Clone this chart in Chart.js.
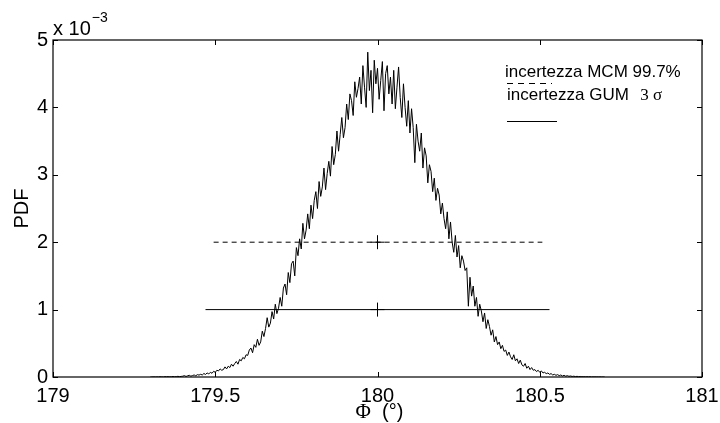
<!DOCTYPE html>
<html>
<head>
<meta charset="utf-8">
<script src="https://cdn.jsdelivr.net/npm/chart.js@4.4.1/dist/chart.umd.min.js"></script>
<style>
  html, body { margin: 0; padding: 0; background: #ffffff; }
  #wrap { width: 720px; height: 423px; }
</style>
</head>
<body>
<div id="wrap"><canvas id="c" width="720" height="423"></canvas></div>
<script>
// Histogram grid of the angle Φ (degrees)
const phiStart = 179.30;
const phiStep = 0.005;

// Estimated PDF per bin, in units of 10^-3
const pdfMilli = [
  0, 0, 0.003, 0, 0.002, 0, 0.004, 0.002, 0, 0.005, 0.003, 0.006, 0.002, 0.004, 0.008, 0.003, 0.006, 0.01, 0.005, 0.009,
  0.012, 0.02, 0.008, 0.018, 0.025, 0.012, 0.022, 0.03, 0.018, 0.035, 0.028, 0.04, 0.03, 0.052, 0.038, 0.06, 0.045, 0.07, 0.055, 0.085,
  0.07, 0.1, 0.09, 0.12, 0.1, 0.11, 0.15, 0.12, 0.16, 0.14, 0.19, 0.16, 0.2, 0.23, 0.19, 0.26, 0.24, 0.29, 0.27, 0.33,
  0.32, 0.4, 0.43, 0.36, 0.48, 0.44, 0.56, 0.47, 0.52, 0.68, 0.6, 0.72, 0.88, 0.74, 0.8, 0.97, 0.86, 1.08, 0.94, 1.02,
  1.18, 1.05, 1.32, 1.38, 1.22, 1.55, 1.4, 1.68, 1.72, 1.5, 1.92, 1.8, 2.05, 1.9, 2.28, 2.05, 2.18, 2.42, 2.2, 2.55,
  2.35, 2.62, 2.75, 2.5, 2.9, 2.68, 2.82, 3.1, 2.78, 3.02, 3.2, 2.98, 3.42, 3.15, 3.3, 3.65, 3.35, 3.6, 3.85, 3.55,
  3.7, 4.05, 3.82, 4.2, 4.1, 3.88, 4.38, 4.15, 4.28, 4.45, 4.05, 4.62, 4.3, 4.0, 4.82, 4.25, 4.55, 3.92, 4.7, 4.35,
  4.58, 4.12, 4.4, 4.68, 3.95, 4.5, 4.62, 4.2, 4.45, 4.05, 4.55, 3.98, 4.3, 4.6, 4.15, 3.85, 4.35, 4.0, 3.72, 4.1,
  3.62, 3.98, 3.7, 3.18, 3.75, 3.5, 3.35, 3.62, 3.1, 3.4, 3.28, 2.88, 3.15, 3.05, 2.75, 2.95, 2.62, 2.8, 2.7, 2.42,
  2.58, 2.35, 2.2, 2.45, 2.05, 2.3, 2.0, 1.85, 2.1, 1.78, 1.95, 1.62, 1.8, 1.72, 1.58, 1.62, 1.05, 1.48, 1.2, 1.35,
  1.05, 1.18, 0.9, 1.08, 0.98, 0.82, 0.95, 0.72, 0.85, 0.75, 0.62, 0.7, 0.52, 0.6, 0.48, 0.52, 0.42, 0.47, 0.38, 0.4,
  0.32, 0.37, 0.3, 0.26, 0.33, 0.24, 0.27, 0.2, 0.25, 0.18, 0.16, 0.2, 0.13, 0.16, 0.11, 0.14, 0.1, 0.11, 0.08, 0.1,
  0.07, 0.09, 0.06, 0.07, 0.05, 0.06, 0.04, 0.05, 0.03, 0.04, 0.025, 0.035, 0.02, 0.03, 0.015, 0.025, 0.012, 0.02, 0.01, 0.015,
  0.008, 0.012, 0.006, 0.01, 0.004, 0.008, 0.003, 0.006, 0.002, 0.005, 0.002, 0.004, 0, 0.003, 0.001, 0.002, 0, 0.002, 0, 0,
  0
];

// Coverage intervals and the level at which each is drawn (10^-3)
const mcmInterval = [179.495, 180.508];
const mcmLevel = 2;
const gumInterval = [179.47, 180.53];
const gumLevel = 1;
const centreValue = 180;

// Axis ticks
const xTicks = [179, 179.5, 180, 180.5, 181];
const yTicks = [0, 1, 2, 3, 4, 5];

const legendLabels = ['incertezza MCM 99.7%', 'incertezza GUM  ', '3 σ'];

const pdfPoints = pdfMilli.map((v, i) => ({ x: phiStart + i * phiStep, y: v }));

const SANS = '"Liberation Sans", Arial, Helvetica, sans-serif';
const SERIF = '"Liberation Serif", "Times New Roman", serif';

// Box, inward ticks, axis titles, exponent and legend
const framePlugin = {
  id: 'frame',
  afterDraw(chart) {
    const { ctx, chartArea: a, scales } = chart;
    const xs = scales.x, ys = scales.y;
    ctx.save();
    ctx.strokeStyle = '#000';
    ctx.lineWidth = 1.2;
    ctx.strokeRect(a.left, a.top, a.right - a.left, a.bottom - a.top);

    ctx.lineWidth = 1;
    const tl = 5;
    ctx.beginPath();
    xTicks.forEach(v => {
      const px = Math.round(xs.getPixelForValue(v)) + 0.5;
      ctx.moveTo(px, a.bottom); ctx.lineTo(px, a.bottom - tl);
      ctx.moveTo(px, a.top); ctx.lineTo(px, a.top + tl);
    });
    yTicks.forEach(v => {
      const py = Math.round(ys.getPixelForValue(v)) + 0.5;
      ctx.moveTo(a.left, py); ctx.lineTo(a.left + tl, py);
      ctx.moveTo(a.right, py); ctx.lineTo(a.right - tl, py);
    });
    ctx.stroke();

    ctx.fillStyle = '#000';
    // y title
    ctx.save();
    ctx.translate(22, (a.top + a.bottom) / 2);
    ctx.rotate(-Math.PI / 2);
    ctx.font = '20px ' + SANS;
    ctx.textAlign = 'center';
    ctx.textBaseline = 'middle';
    ctx.fillText('PDF', 0, 0);
    ctx.restore();

    // x title: Φ (°)
    const cx = xs.getPixelForValue(180);
    ctx.textBaseline = 'alphabetic';
    ctx.textAlign = 'left';
    ctx.font = '21px ' + SERIF;
    const phiW = ctx.measureText('Φ').width;
    ctx.font = '20px ' + SANS;
    const degW = ctx.measureText('  (°)').width;
    let sx = cx - (phiW + degW) / 2 + 2;
    ctx.font = '21px ' + SERIF;
    ctx.fillText('Φ', sx, 418);
    ctx.font = '20px ' + SANS;
    ctx.fillText('  (°)', sx + phiW, 418);

    // exponent label
    ctx.font = '20px ' + SANS;
    ctx.fillText('x 10', a.left, 35);
    const w10 = ctx.measureText('x 10').width;
    ctx.font = '14px ' + SANS;
    ctx.fillText('\u22123', a.left + w10 + 1, 22);

    // legend
    ctx.font = '17px ' + SANS;
    ctx.fillText(legendLabels[0], 505, 77);
    ctx.fillText(legendLabels[1], 507, 100);
    const gw = ctx.measureText(legendLabels[1]).width;
    ctx.font = '17px ' + SERIF;
    ctx.fillText(legendLabels[2], 507 + gw + 2, 100);

    ctx.lineWidth = 1;
    ctx.setLineDash([6, 5]);
    ctx.beginPath(); ctx.moveTo(507, 83.5); ctx.lineTo(552, 83.5); ctx.stroke();
    ctx.setLineDash([]);
    ctx.beginPath(); ctx.moveTo(507, 121.5); ctx.lineTo(557, 121.5); ctx.stroke();
    ctx.restore();
  }
};

new Chart(document.getElementById('c'), {
  type: 'line',
  data: {
    datasets: [
      {
        data: pdfPoints,
        borderColor: '#000', borderWidth: 1, pointRadius: 0, tension: 0
      },
      {
        data: [{ x: mcmInterval[0], y: mcmLevel }, { x: mcmInterval[1], y: mcmLevel }],
        borderColor: '#000', borderWidth: 1, borderDash: [5, 4], pointRadius: 0
      },
      {
        data: [{ x: gumInterval[0], y: gumLevel }, { x: gumInterval[1], y: gumLevel }],
        borderColor: '#000', borderWidth: 1, pointRadius: 0
      },
      {
        data: [{ x: centreValue, y: mcmLevel }, { x: centreValue, y: gumLevel }],
        showLine: false, pointStyle: 'cross', pointRadius: 7,
        borderColor: '#000', pointBorderWidth: 1, backgroundColor: '#000'
      }
    ]
  },
  options: {
    responsive: false,
    animation: false,
    devicePixelRatio: 1,
    layout: { padding: { left: 0, top: 40, right: 18, bottom: 0 } },
    plugins: { legend: { display: false }, tooltip: { enabled: false } },
    scales: {
      x: {
        type: 'linear', min: 179, max: 181,
        afterBuildTicks: s => { s.ticks = xTicks.map(v => ({ value: v })); },
        afterFit: s => { s.height = 46; s.paddingLeft = 0; s.paddingRight = 0; },
        grid: { display: false, drawTicks: false },
        border: { display: false },
        ticks: { color: '#000', font: { family: SANS, size: 20 }, padding: 7, maxRotation: 0,
                 callback: v => String(v) }
      },
      y: {
        type: 'linear', min: 0, max: 5,
        afterBuildTicks: s => { s.ticks = yTicks.map(v => ({ value: v })); },
        afterFit: s => { s.width = 53; s.paddingTop = 0; s.paddingBottom = 0; },
        grid: { display: false, drawTicks: false },
        border: { display: false },
        ticks: { color: '#000', font: { family: SANS, size: 20 }, padding: 5,
                 callback: v => String(v) }
      }
    }
  },
  plugins: [framePlugin]
});
</script>
</body>
</html>
